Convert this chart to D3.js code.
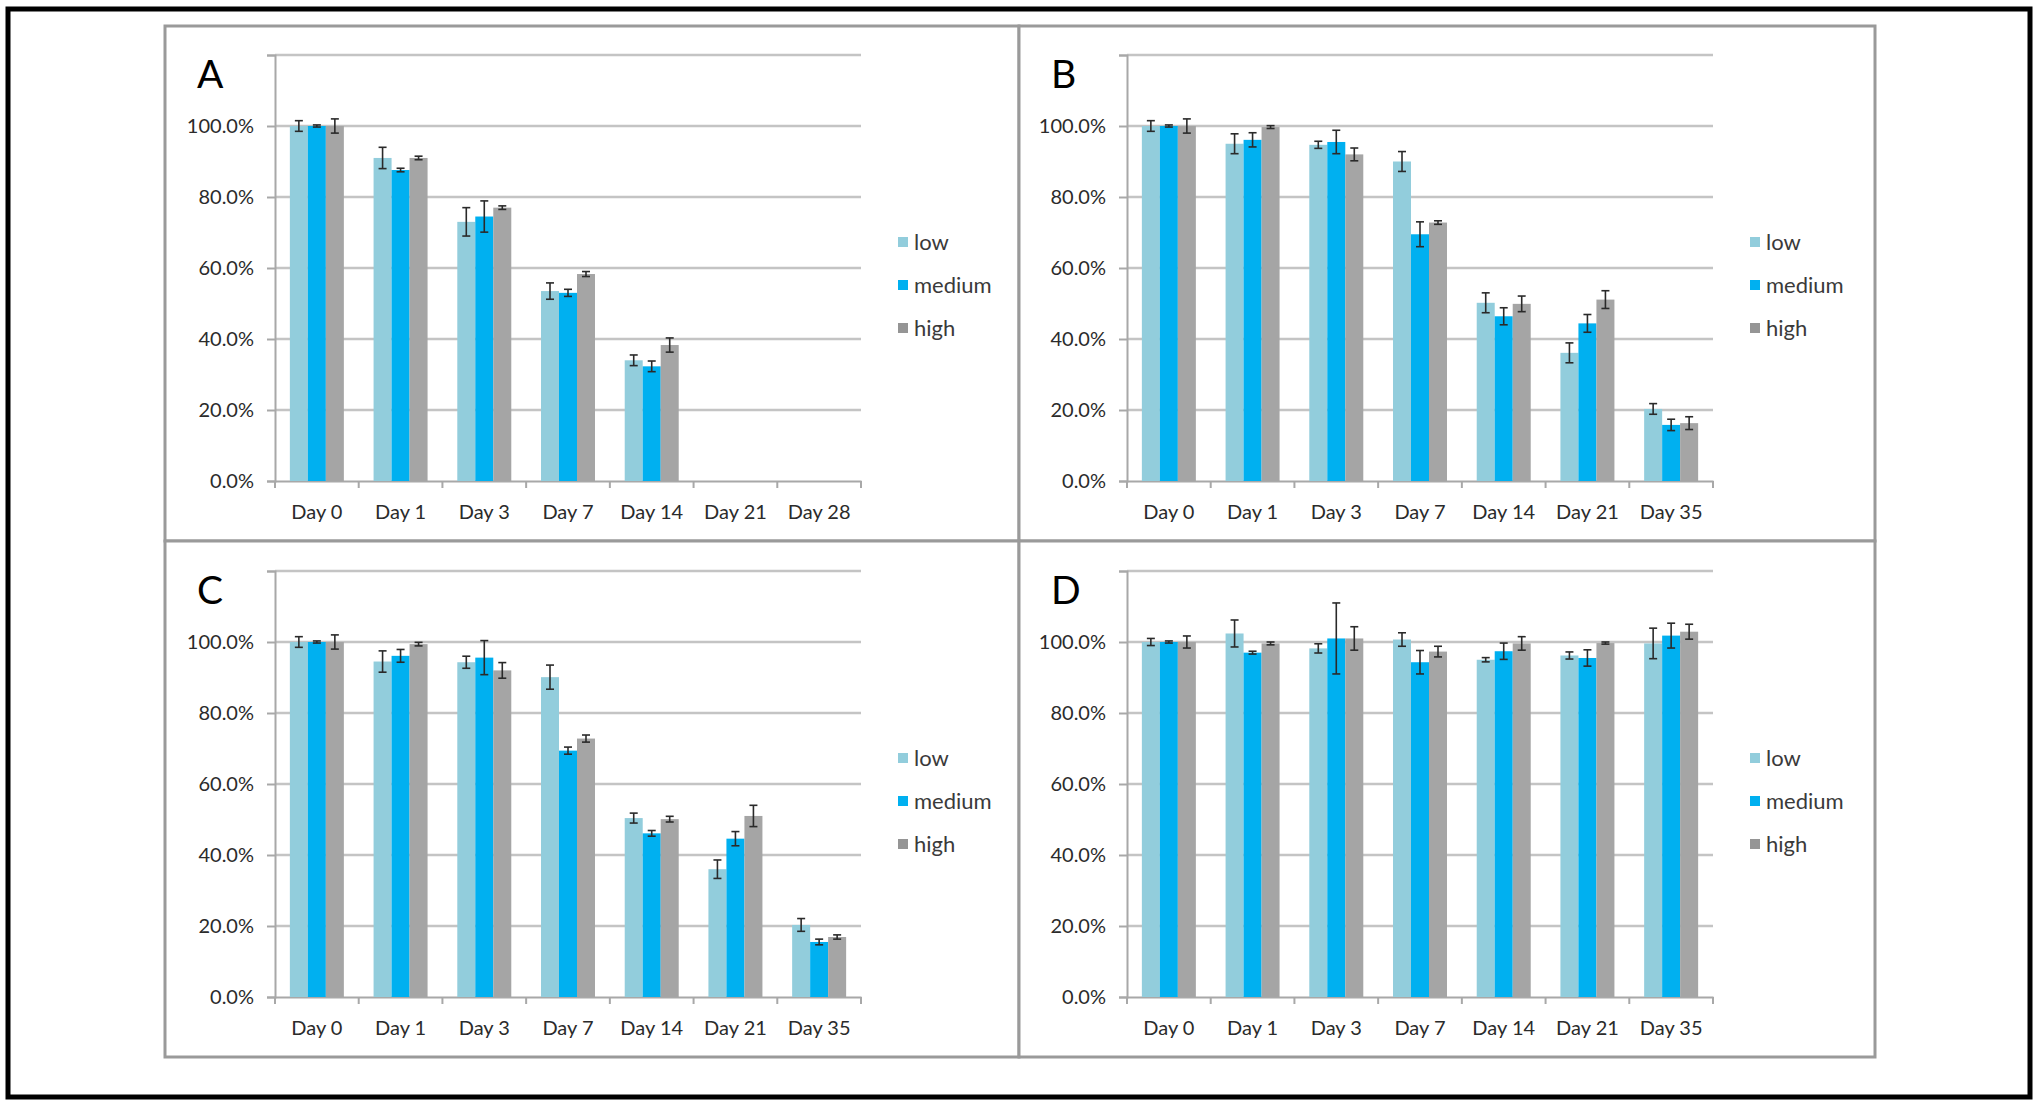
<!DOCTYPE html>
<html>
<head>
<meta charset="utf-8">
<script src="https://cdn.jsdelivr.net/npm/d3@7"></script>
<style>
  html, body { margin: 0; padding: 0; background: #ffffff; }
  svg { display: block; }
  text { font-family: Lato, "Open Sans", sans-serif; }
</style>
</head>
<body>
<svg id="chart" width="2040" height="1104"></svg>
<script>
// ---------- data ----------
const daysA = ["Day 0", "Day 1", "Day 3", "Day 7", "Day 14", "Day 21", "Day 28"];
const daysBCD = ["Day 0", "Day 1", "Day 3", "Day 7", "Day 14", "Day 21", "Day 35"];
const seriesNames = ["low", "medium", "high"];
const yTicks = [0, 20, 40, 60, 80, 100, 120];
const yLabelTicks = [0, 20, 40, 60, 80, 100];

// Panel A (no data for Day 21, Day 28)
const aLow = [100, 91, 73, 53.5, 34, null, null];
const aLowErr = [1.5, 3, 4, 2.3, 1.5, null, null];
const aMedium = [100, 87.6, 74.5, 53, 32.3, null, null];
const aMediumErr = [0.3, 0.5, 4.4, 1, 1.5, null, null];
const aHigh = [100, 91, 77, 58.3, 38.3, null, null];
const aHighErr = [2, 0.5, 0.5, 0.7, 2, null, null];

// Panel B
const bLow = [100, 95, 94.7, 90, 50.2, 36.1, 20.3];
const bLowErr = [1.5, 2.8, 1, 2.8, 2.8, 2.8, 1.5];
const bMedium = [100, 96.1, 95.5, 69.5, 46.4, 44.4, 15.8];
const bMediumErr = [0.3, 2, 3.3, 3.5, 2.4, 2.5, 1.6];
const bHigh = [100, 99.7, 92, 72.8, 49.9, 51.1, 16.3];
const bHighErr = [2, 0.4, 1.8, 0.5, 2.2, 2.5, 1.8];

// Panel C
const cLow = [100, 94.5, 94.3, 90.1, 50.4, 36, 20.3];
const cLowErr = [1.5, 3, 1.7, 3.4, 1.4, 2.6, 1.8];
const cMedium = [100, 96.1, 95.6, 69.4, 46.1, 44.6, 15.5];
const cMediumErr = [0.3, 1.8, 4.8, 1, 0.8, 2, 0.8];
const cHigh = [100, 99.4, 92, 72.8, 50.1, 51, 16.9];
const cHighErr = [2, 0.5, 2.2, 1, 0.8, 3, 0.6];

// Panel D
const dLow = [100, 102.4, 98.2, 100.7, 95, 96.2, 99.6];
const dLowErr = [1, 3.8, 1.3, 1.9, 0.6, 1, 4.3];
const dMedium = [100, 97, 101, 94.3, 97.4, 95.5, 101.8];
const dMediumErr = [0.3, 0.4, 10, 3.3, 2.3, 2.3, 3.5];
const dHigh = [100, 99.6, 101, 97.3, 99.6, 99.7, 102.9];
const dHighErr = [1.7, 0.4, 3.3, 1.5, 1.9, 0.3, 2.1];

const colors = { low: "#92cddc", medium: "#00b0f0", high: "#a5a5a5" };
const legendColors = { low: "#92cddc", medium: "#00b0f0", high: "#959595" };

const panels = [
  { letter: "A", days: daysA, vals: [aLow, aMedium, aHigh], errs: [aLowErr, aMediumErr, aHighErr],
    box: [165, 26, 1019, 541], x0: 275, x1: 861, yZero: 481, yTop: 55 },
  { letter: "B", days: daysBCD, vals: [bLow, bMedium, bHigh], errs: [bLowErr, bMediumErr, bHighErr],
    box: [1019, 26, 1875, 541], x0: 1127, x1: 1713, yZero: 481, yTop: 55 },
  { letter: "C", days: daysBCD, vals: [cLow, cMedium, cHigh], errs: [cLowErr, cMediumErr, cHighErr],
    box: [165, 541, 1019, 1057], x0: 275, x1: 861, yZero: 997, yTop: 571 },
  { letter: "D", days: daysBCD, vals: [dLow, dMedium, dHigh], errs: [dLowErr, dMediumErr, dHighErr],
    box: [1019, 541, 1875, 1057], x0: 1127, x1: 1713, yZero: 997, yTop: 571 }
];

const svg = d3.select("#chart");

// outer black frame
svg.append("rect").attr("x", 8).attr("y", 9).attr("width", 2022).attr("height", 1088)
  .attr("fill", "none").attr("stroke", "#000").attr("stroke-width", 5);

panels.forEach(p => {
  const g = svg.append("g");
  const [bx0, by0, bx1, by1] = p.box;

  g.append("rect").attr("x", bx0).attr("y", by0).attr("width", bx1 - bx0).attr("height", by1 - by0)
    .attr("fill", "#fff").attr("stroke", "#9a9a9a").attr("stroke-width", 3);

  const x = d3.scaleBand().domain(p.days).range([p.x0, p.x1]).paddingInner(0.355).paddingOuter(0.1775);
  const xs = d3.scaleBand().domain(seriesNames).range([0, x.bandwidth()]);
  const y = d3.scaleLinear().domain([0, 120]).range([p.yZero, p.yTop]);

  // gridlines
  g.append("g").selectAll("line").data(yTicks.slice(1)).join("line")
    .attr("x1", p.x0).attr("x2", p.x1)
    .attr("y1", d => y(d)).attr("y2", d => y(d))
    .attr("stroke", "#c4c4c4").attr("stroke-width", 2.5);

  // y axis
  const yAxis = d3.axisLeft(y).tickValues(yTicks).tickSize(8).tickPadding(13)
    .tickFormat(d => yLabelTicks.includes(d) ? d3.format(".1f")(d) + "%" : "");
  const ya = g.append("g").attr("transform", `translate(${p.x0},0)`).call(yAxis);
  ya.select(".domain").attr("stroke", "#a8a8a8").attr("stroke-width", 2);
  ya.selectAll(".tick line").attr("stroke", "#a8a8a8").attr("stroke-width", 2);
  ya.selectAll(".tick text").attr("font-size", 20).attr("fill", "#2b2b2b")
    .attr("font-family", "Lato, 'Open Sans', sans-serif");

  // x axis
  const xAxis = d3.axisBottom(x).tickSize(0).tickPadding(24);
  const xa = g.append("g").attr("transform", `translate(0,${p.yZero})`).call(xAxis);
  xa.select(".domain").attr("stroke", "#a8a8a8").attr("stroke-width", 2);
  xa.selectAll(".tick text").attr("font-size", 20).attr("fill", "#2b2b2b")
    .attr("font-family", "Lato, 'Open Sans', sans-serif");
  // tick marks at category boundaries
  const step = x.step();
  const bounds = d3.range(p.days.length + 1).map(i => p.x0 + i * step);
  g.append("g").selectAll("line").data(bounds).join("line")
    .attr("x1", d => d).attr("x2", d => d)
    .attr("y1", p.yZero).attr("y2", p.yZero + 7)
    .attr("stroke", "#a8a8a8").attr("stroke-width", 2);

  // bars + error bars
  seriesNames.forEach((s, si) => {
    const rows = p.days.map((d, i) => ({ day: d, v: p.vals[si][i], e: p.errs[si][i] }))
      .filter(r => r.v != null);
    g.append("g").selectAll("rect").data(rows).join("rect")
      .attr("x", r => x(r.day) + xs(s))
      .attr("width", xs.bandwidth())
      .attr("y", r => y(r.v))
      .attr("height", r => y(0) - y(r.v))
      .attr("fill", colors[s]);
    const eg = g.append("g").attr("stroke", "#2a2a2a").attr("stroke-width", 1.6);
    rows.forEach(r => {
      const cx = x(r.day) + xs(s) + xs.bandwidth() / 2;
      eg.append("line").attr("x1", cx).attr("x2", cx).attr("y1", y(r.v + r.e)).attr("y2", y(r.v - r.e));
      eg.append("line").attr("x1", cx - 4).attr("x2", cx + 4).attr("y1", y(r.v + r.e)).attr("y2", y(r.v + r.e));
      eg.append("line").attr("x1", cx - 4).attr("x2", cx + 4).attr("y1", y(r.v - r.e)).attr("y2", y(r.v - r.e));
    });
  });

  // panel letter
  g.append("text").attr("x", bx0 + 32).attr("y", p.yTop + 33)
    .attr("font-size", 39).attr("fill", "#000").text(p.letter);

  // legend
  const lg = g.append("g").attr("transform", `translate(${p.x1 + 37},${p.yZero - 239})`);
  seriesNames.forEach((s, i) => {
    const row = lg.append("g").attr("transform", `translate(0,${i * 43})`);
    row.append("rect").attr("x", 0).attr("y", -5).attr("width", 10).attr("height", 10).attr("fill", legendColors[s]);
    row.append("text").attr("x", 16).attr("y", 7.5).attr("font-size", 22).attr("fill", "#3a3a3a").text(s);
  });
});
</script>
</body>
</html>
